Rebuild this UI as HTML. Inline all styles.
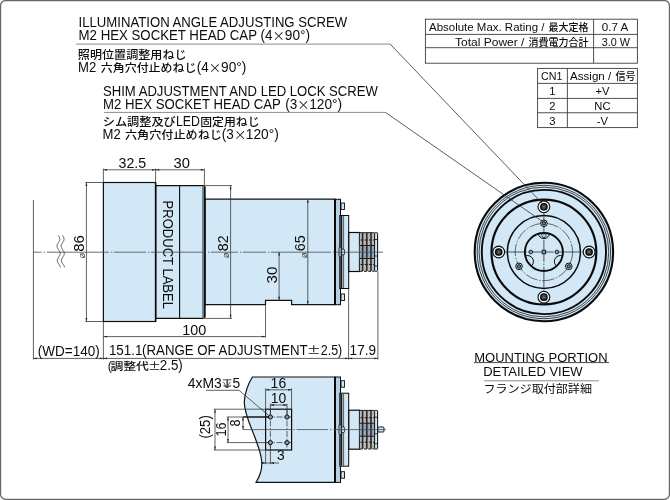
<!DOCTYPE html>
<html lang="ja">
<head>
<meta charset="utf-8">
<title>Outline drawing</title>
<style>
html,body{margin:0;padding:0;background:#fff;}
body{width:670px;height:500px;overflow:hidden;}
svg{display:block;will-change:opacity;}
text{font-family:"Liberation Sans","Noto Sans CJK JP",sans-serif;fill:#0c0c0c;}
.j,.tj,.nj{stroke:none;}
.t{font-size:14px;}
.j{font-size:11.2px;font-weight:500;}
.s{font-family:"Noto Sans CJK JP",sans-serif;}
.tb{font-size:11.2px;}
.tj{font-size:10px;font-weight:500;}
.d{font-size:13.8px;}
.r{font-size:13.8px;}
.ol{fill:#d3e8f6;stroke:#111;stroke-width:1.2;stroke-linejoin:miter;}
.dim{stroke:#2e2e2e;stroke-width:.75;fill:none;}
.rule{stroke:#8c8c8c;stroke-width:1;fill:none;}
.lead{stroke:#333;stroke-width:.8;fill:none;}
.tbl{stroke:#3c3c3c;stroke-width:.9;fill:none;}
.ar{fill:#222;stroke:none;}
</style>
</head>
<body>
<svg width="670" height="500" viewBox="0 0 670 500">
<defs>
<g id="conn">
  <rect x="335" y="-52.7" width="5.5" height="105.4" fill="#b7cfe3" stroke="#0a0a0a" stroke-width="1"/>
  <rect x="341" y="-49" width="3.5" height="6.5" fill="#cfe5f5" stroke="#0a0a0a" stroke-width=".9"/>
  <rect x="341" y="42" width="3.5" height="6.5" fill="#cfe5f5" stroke="#0a0a0a" stroke-width=".9"/>
  <rect x="339.8" y="-36.5" width="8.9" height="73" fill="#d3e8f6" stroke="#0a0a0a" stroke-width="1"/>
  <rect x="340.3" y="-36" width="2" height="72" fill="#1a1a1a"/>
  <line x1="343.6" y1="-36" x2="343.6" y2="36" stroke="#222" stroke-width=".7"/>
  <rect x="339" y="-5" width="2.2" height="10" rx="1" fill="#b7cfe3" stroke="#0a0a0a" stroke-width=".8"/>
  <rect x="341.6" y="-2.8" width="2.8" height="5.6" rx=".8" fill="#d3e8f6" stroke="#0a0a0a" stroke-width=".8"/>
  <rect x="348.8" y="-19.5" width="10.7" height="39" fill="#d3e8f6" stroke="#0a0a0a" stroke-width="1.2"/>
  <rect x="359.8" y="-19.3" width="14.6" height="38.6" fill="#b9b9b9"/>
  <rect x="359.8" y="-6.5" width="14.6" height="13" fill="#93a8bb"/>
  <g stroke="#2a2a2a" stroke-width="1.6">
    <line x1="362.6" y1="-19" x2="362.6" y2="19"/><line x1="366.8" y1="-19" x2="366.8" y2="19"/><line x1="371" y1="-19" x2="371" y2="19"/>
  </g>
  <g stroke="#1a1a1a" stroke-width="1" fill="none">
    <line x1="359.8" y1="-19.3" x2="374.4" y2="-19.3"/><line x1="359.8" y1="19.3" x2="374.4" y2="19.3" stroke-dasharray="2.8 1.4"/>
    <line x1="359.8" y1="-6.5" x2="374.4" y2="-6.5"/><line x1="359.8" y1="6.5" x2="374.4" y2="6.5"/>
    <line x1="360.5" y1="-12" x2="374" y2="-12" stroke-dasharray="2.8 1.4"/><line x1="360.5" y1="12.5" x2="374" y2="12.5" stroke-dasharray="2.8 1.4"/>
  </g>
  <rect x="374.6" y="-19.3" width="3" height="38.6" rx=".8" fill="#d3e8f6" stroke="#0a0a0a" stroke-width="1"/>
  <line x1="374.6" y1="-12.5" x2="377.6" y2="-12.5" stroke="#0a0a0a" stroke-width=".8"/>
  <line x1="374.6" y1="4" x2="377.6" y2="4" stroke="#0a0a0a" stroke-width=".8"/>
  <line x1="374.6" y1="14" x2="377.6" y2="14" stroke="#0a0a0a" stroke-width=".8"/>
</g>
<path id="ah" d="M0,0 L3.6,-0.9 L3.6,0.9 Z"/>
<g id="bscrew">
  <circle r="5.9" fill="#eaf4fb" stroke="#0a0a0a" stroke-width="1.1"/>
  <circle r="3.1" fill="#56616b" stroke="#0a0a0a" stroke-width="1.5"/>
  <circle r="1.3" fill="#8e99a3" stroke="#111" stroke-width=".7"/>
</g>
<g id="sscrew">
  <circle r="3.3" fill="#d3e8f6" stroke="#0a0a0a" stroke-width="1"/>
  <circle r="1.7" fill="#77838e" stroke="#0a0a0a" stroke-width="1"/>
</g>
<clipPath id="inner"><circle cx="543.9" cy="252" r="19"/></clipPath>
</defs>

<!-- frame -->
<rect x=".55" y=".55" width="668.9" height="498.7" rx="5" ry="5" fill="#fff" stroke="#666" stroke-width="1.25"/>

<!-- ===== notes top-left ===== -->
<text class="t" x="78.6" y="27" textLength="268.6" lengthAdjust="spacingAndGlyphs">ILLUMINATION ANGLE ADJUSTING SCREW</text>
<text class="t" y="40.3"><tspan x="78.6" textLength="178.4" lengthAdjust="spacingAndGlyphs">M2 HEX SOCKET HEAD CAP</tspan><tspan x="260.4" textLength="12" lengthAdjust="spacingAndGlyphs">(4</tspan><tspan class="s" x="272.5" dy=".8" style="font-size:12.4px">×</tspan><tspan x="284.8" dy="-.8" textLength="25.3" lengthAdjust="spacingAndGlyphs">90°)</tspan></text>
<text class="j" x="77.8" y="59.2" textLength="108.8" lengthAdjust="spacingAndGlyphs">照明位置調整用ねじ</text>
<text class="t" y="72"><tspan x="78.1" textLength="18.2" lengthAdjust="spacingAndGlyphs">M2</tspan><tspan class="j" x="100.8" textLength="95.6" lengthAdjust="spacingAndGlyphs">六角穴付止めねじ</tspan><tspan x="196.7" textLength="12" lengthAdjust="spacingAndGlyphs">(4</tspan><tspan class="s" x="208.8" dy=".8" style="font-size:12.4px">×</tspan><tspan x="221.1" dy="-.8" textLength="25.3" lengthAdjust="spacingAndGlyphs">90°)</tspan></text>
<text class="t" x="103" y="95.9" textLength="274.8" lengthAdjust="spacingAndGlyphs">SHIM ADJUSTMENT AND LED LOCK SCREW</text>
<text class="t" y="109"><tspan x="103" textLength="177.8" lengthAdjust="spacingAndGlyphs">M2 HEX SOCKET HEAD CAP</tspan><tspan x="285.2" textLength="12" lengthAdjust="spacingAndGlyphs">(3</tspan><tspan class="s" x="297.3" dy=".8" style="font-size:12.4px">×</tspan><tspan x="309.2" dy="-.8" textLength="33" lengthAdjust="spacingAndGlyphs">120°)</tspan></text>
<text class="t" y="125.8"><tspan class="j" x="102.8" textLength="73" lengthAdjust="spacingAndGlyphs">シム調整及び</tspan><tspan x="176" textLength="24" lengthAdjust="spacingAndGlyphs">LED</tspan><tspan class="j" x="200.2" textLength="59.4" lengthAdjust="spacingAndGlyphs">固定用ねじ</tspan></text>
<text class="t" y="139.4"><tspan x="102.6" textLength="18.2" lengthAdjust="spacingAndGlyphs">M2</tspan><tspan class="j" x="124.9" textLength="97" lengthAdjust="spacingAndGlyphs">六角穴付止めねじ</tspan><tspan x="221.8" textLength="12" lengthAdjust="spacingAndGlyphs">(3</tspan><tspan class="s" x="233.9" dy=".8" style="font-size:12.4px">×</tspan><tspan x="245.8" dy="-.8" textLength="33" lengthAdjust="spacingAndGlyphs">120°)</tspan></text>
<polyline class="rule" points="76,44.1 390.4,44.1"/>
<polyline class="rule" points="104,112.4 385.6,112.4"/>

<!-- ===== tables ===== -->
<g class="tbl">
<rect x="425.4" y="19.2" width="212" height="44"/>
<line x1="425.4" y1="34.4" x2="637.4" y2="34.4"/><line x1="425.4" y1="47.7" x2="637.4" y2="47.7"/>
<line x1="593.6" y1="19.2" x2="593.6" y2="63.2"/>
<rect x="537.6" y="68.4" width="99.8" height="59.2"/>
<line x1="537.6" y1="83.4" x2="637.4" y2="83.4"/><line x1="537.6" y1="98.4" x2="637.4" y2="98.4"/><line x1="537.6" y1="112.75" x2="637.4" y2="112.75"/>
<line x1="567.4" y1="68.4" x2="567.4" y2="127.6"/>
</g>
<text class="tb" y="31.2"><tspan x="429" textLength="115.4" lengthAdjust="spacingAndGlyphs">Absolute Max. Rating /</tspan><tspan class="tj" x="548.6">最大定格</tspan></text>
<text class="tb" y="46.2"><tspan x="455" textLength="69.4" lengthAdjust="spacingAndGlyphs">Total Power /</tspan><tspan class="tj" x="528.6">消費電力合計</tspan></text>
<text class="tb" x="601.8" y="31.2" textLength="26.6" lengthAdjust="spacingAndGlyphs">0.7 A</text>
<text class="tb" x="601.8" y="46.2" textLength="28.2" lengthAdjust="spacingAndGlyphs">3.0 W</text>
<text class="tb" x="541" y="80.2" textLength="21.4" lengthAdjust="spacingAndGlyphs">CN1</text>
<text class="tb" y="80.2"><tspan x="570" textLength="41.2" lengthAdjust="spacingAndGlyphs">Assign /</tspan><tspan class="tj" x="615.4">信号</tspan></text>
<text class="tb" x="552.4" y="95.2" text-anchor="middle">1</text>
<text class="tb" x="552.4" y="109.9" text-anchor="middle">2</text>
<text class="tb" x="552.4" y="124.8" text-anchor="middle">3</text>
<text class="tb" x="602.4" y="95.2" text-anchor="middle">+V</text>
<text class="tb" x="602.4" y="109.9" text-anchor="middle">NC</text>
<text class="tb" x="602.4" y="124.8" text-anchor="middle">-V</text>

<!-- ===== side view ===== -->
<path class="ol" d="M205,199.2 H335 V304.6 H291.6 V300.4 H265.5 V304.6 H205 Z"/>
<path class="ol" d="M155.6,185.6 H203 Q204.8,185.6 204.8,187.4 V316.6 Q204.8,318.4 203,318.4 H155.6 Z"/>
<line x1="179.6" y1="185.6" x2="179.6" y2="318.4" stroke="#0a0a0a" stroke-width="1.1"/>
<rect x="202.1" y="186.2" width="2.2" height="131.6" fill="#6d7d8b"/>
<line x1="204.8" y1="186.4" x2="204.8" y2="317.6" stroke="#0a0a0a" stroke-width="1.4"/>
<rect class="ol" x="103.4" y="182.5" width="52.2" height="139"/>
<line x1="155.6" y1="182.5" x2="155.6" y2="321.5" stroke="#0a0a0a" stroke-width="1.5"/>
<use href="#conn" y="252"/>
<line x1="335" y1="199" x2="335" y2="304.5" stroke="#0a0a0a" stroke-width="2"/>
<text class="r" transform="translate(163,200.6) rotate(90)" textLength="108.4" lengthAdjust="spacingAndGlyphs" style="font-size:14px">PRODUCT LABEL</text>

<!-- centre line -->
<path d="M33.2,252.2 H41.6 M43.6,252.2 H45 M47,252.2 H109 M111,252.2 H112.4 M114,252.2 H146 M148,252.2 H149.4 M151,252.2 H206 M208,252.2 H209.5 M211,252.2 H238 M240,252.2 H241.5 M243,252.2 H266 M268,252.2 H269.4 M271,252.2 H331 M333,252.2 H334.4 M336,252.2 H383" stroke="#4a4a4a" stroke-width=".8" fill="none"/>
<!-- break marks -->
<polyline points="58.3,235.4 58.8,236.2 59.3,237.0 59.6,237.8 59.8,238.6 59.8,239.4 59.7,240.2 59.4,241.0 58.9,241.8 58.4,242.6 57.9,243.4 57.5,244.2 57.2,245.0 57.0,245.8 57.0,246.6 57.2,247.4 57.6,248.2 58.0,249.0 58.6,249.8 59.1,250.6 59.6,251.4 59.9,252.2 60.1,253.0 60.1,253.8 60.0,254.6 59.7,255.4 59.2,256.2 58.7,257.0 58.2,257.8 57.8,258.6 57.5,259.4 57.3,260.2 57.3,261.0 57.5,261.8 57.9,262.6 58.3,263.4 58.9,264.2 59.4,265.0 59.9,265.8 60.2,266.6 60.4,267.4" fill="none" stroke="#333" stroke-width=".75"/>
<polyline points="62.5,235.4 63.0,236.2 63.5,237.0 63.8,237.8 64.0,238.6 64.0,239.4 63.9,240.2 63.6,241.0 63.1,241.8 62.6,242.6 62.1,243.4 61.7,244.2 61.4,245.0 61.2,245.8 61.2,246.6 61.4,247.4 61.8,248.2 62.2,249.0 62.8,249.8 63.3,250.6 63.8,251.4 64.1,252.2 64.3,253.0 64.3,253.8 64.2,254.6 63.9,255.4 63.4,256.2 62.9,257.0 62.4,257.8 62.0,258.6 61.7,259.4 61.5,260.2 61.5,261.0 61.7,261.8 62.1,262.6 62.5,263.4 63.1,264.2 63.6,265.0 64.1,265.8 64.4,266.6 64.6,267.4" fill="none" stroke="#333" stroke-width=".75"/>

<!-- dimensions side view -->
<g class="dim">
<line x1="33.4" y1="200" x2="33.4" y2="359.6"/>
<line x1="103.4" y1="168.6" x2="103.4" y2="182"/><line x1="155.6" y1="168.6" x2="155.6" y2="185"/><line x1="204.4" y1="168.6" x2="204.4" y2="185"/>
<line x1="103.4" y1="169.8" x2="204.4" y2="169.8"/>
<line x1="85.4" y1="182.5" x2="103.4" y2="182.5"/><line x1="85.4" y1="321.5" x2="103.4" y2="321.5"/><line x1="86.4" y1="182.5" x2="86.4" y2="321.5"/>
<line x1="204.4" y1="185.6" x2="232" y2="185.6"/><line x1="204.4" y1="318.4" x2="232" y2="318.4"/><line x1="230.6" y1="185.6" x2="230.6" y2="318.4"/>
<line x1="307.8" y1="199.2" x2="307.8" y2="304.6"/>
<line x1="279.1" y1="252" x2="279.1" y2="300.4"/>
<line x1="103.4" y1="321.5" x2="103.4" y2="359.6"/>
<line x1="265.5" y1="304.5" x2="265.5" y2="337.6"/>
<line x1="103.4" y1="336.6" x2="265.5" y2="336.6"/>
<line x1="33.2" y1="358.4" x2="378" y2="358.4"/>
<line x1="348.6" y1="288.5" x2="348.6" y2="359.6"/><line x1="377.9" y1="271.5" x2="377.9" y2="359.6"/>
</g>
<g class="ar">
<use href="#ah" transform="translate(103.4,169.8)"/><use href="#ah" transform="translate(155.6,169.8) rotate(180)"/>
<use href="#ah" transform="translate(155.6,169.8)"/><use href="#ah" transform="translate(204.4,169.8) rotate(180)"/>
<use href="#ah" transform="translate(86.4,182.5) rotate(90)"/><use href="#ah" transform="translate(86.4,321.5) rotate(-90)"/>
<use href="#ah" transform="translate(230.6,185.6) rotate(90)"/><use href="#ah" transform="translate(230.6,318.4) rotate(-90)"/>
<use href="#ah" transform="translate(307.8,199.2) rotate(90)"/><use href="#ah" transform="translate(307.8,304.6) rotate(-90)"/>
<use href="#ah" transform="translate(279.1,252) rotate(90)"/><use href="#ah" transform="translate(279.1,300.4) rotate(-90)"/>
<use href="#ah" transform="translate(103.4,336.6)"/><use href="#ah" transform="translate(265.5,336.6) rotate(180)"/>
<use href="#ah" transform="translate(33.2,358.4)"/><use href="#ah" transform="translate(103.4,358.4) rotate(180)"/>
<use href="#ah" transform="translate(103.4,358.4)"/><use href="#ah" transform="translate(348.6,358.4) rotate(180)"/>
<use href="#ah" transform="translate(348.6,358.4)"/><use href="#ah" transform="translate(377.9,358.4) rotate(180)"/>
</g>
<text class="d" x="118.6" y="167.5" textLength="27.6" lengthAdjust="spacingAndGlyphs">32.5</text>
<text class="d" x="173.6" y="167.5" textLength="16.4" lengthAdjust="spacingAndGlyphs">30</text>
<text class="d" x="182.2" y="335.1" textLength="24" lengthAdjust="spacingAndGlyphs">100</text>
<text class="d" x="37.8" y="356.2" textLength="62" lengthAdjust="spacingAndGlyphs">(WD=140)</text>
<text class="d" y="354.6"><tspan x="108.9" textLength="33.6" lengthAdjust="spacingAndGlyphs">151.1</tspan><tspan x="142.1" textLength="165.5" lengthAdjust="spacingAndGlyphs">(RANGE OF ADJUSTMENT</tspan></text>
<text class="d s" x="306.8" y="354.4" textLength="14" lengthAdjust="spacingAndGlyphs" style="font-size:10.4px">±</text>
<text class="d" x="320.8" y="354.6" textLength="21.4" lengthAdjust="spacingAndGlyphs">2.5)</text>
<text class="d" x="349.6" y="354.8" textLength="26.4" lengthAdjust="spacingAndGlyphs">17.9</text>
<text class="d" y="369.8"><tspan x="107.7" style="font-size:12.4px">(</tspan><tspan x="110.4" textLength="38.6" lengthAdjust="spacingAndGlyphs" class="nj" style="font-size:10.6px;font-weight:500">調整代</tspan><tspan class="s" x="147.9" textLength="13" lengthAdjust="spacingAndGlyphs" style="font-size:10.4px">±</tspan><tspan x="159.8" textLength="23" lengthAdjust="spacingAndGlyphs">2.5)</tspan></text>
<text class="r" transform="translate(84,251.8) rotate(-90)" textLength="16.6" lengthAdjust="spacingAndGlyphs">86</text>
<text transform="translate(85,258.4) rotate(-90)" style="font-size:9.5px;fill:#444">ø</text>
<text class="r" transform="translate(228,251.2) rotate(-90)" textLength="16" lengthAdjust="spacingAndGlyphs">82</text>
<text transform="translate(229.3,258.2) rotate(-90)" style="font-size:9.5px;fill:#444">ø</text>
<text class="r" transform="translate(305.2,251.2) rotate(-90)" textLength="16" lengthAdjust="spacingAndGlyphs">65</text>
<text transform="translate(306.6,258.2) rotate(-90)" style="font-size:9.5px;fill:#444">ø</text>
<text class="r" transform="translate(277,283.4) rotate(-90)" textLength="16.8" lengthAdjust="spacingAndGlyphs">30</text>

<!-- ===== bottom view ===== -->
<path class="ol" d="M252.4,377 C248.4,383.5 244.8,393 244.3,402 C244.2,414 251.4,427 256.6,442 C261.4,455 263.4,464 260.4,473 C259.2,477 257.2,480 256,482.4 L335,482.4 L335,377 Z"/>
<use href="#conn" y="429.7"/>
<line x1="335" y1="377" x2="335" y2="482.4" stroke="#0a0a0a" stroke-width="2"/>
<rect x="377.9" y="427" width="6" height="5" rx=".6" fill="#d3e8f6" stroke="#0a0a0a" stroke-width=".9"/>
<path d="M243,429.6 H291.6 M293.4,429.6 H294.8 M296.6,429.6 H328 M330,429.6 H331.4 M333.4,429.6 H386" stroke="#4a4a4a" stroke-width=".8" fill="none"/>
<rect x="265.6" y="409.2" width="26" height="40.8" fill="none" stroke="#0a0a0a" stroke-width="1.2"/>
<g stroke="#444" stroke-width=".8" stroke-dasharray="6 1.5 1.5 1.5" fill="none">
<line x1="266" y1="417" x2="291" y2="417"/><line x1="266" y1="442.6" x2="291" y2="442.6"/>
<line x1="270.4" y1="410" x2="270.4" y2="450"/><line x1="287" y1="410" x2="287" y2="450"/>
</g>
<g fill="#8b98a4" stroke="#0a0a0a" stroke-width="1">
<circle cx="270.4" cy="417" r="2.1"/><circle cx="287" cy="417" r="2.1"/><circle cx="270.4" cy="442.6" r="2.1"/><circle cx="287" cy="442.6" r="2.1"/>
</g>
<g class="dim">
<line x1="265.6" y1="388.4" x2="265.6" y2="409"/><line x1="291.6" y1="388.4" x2="291.6" y2="409"/><line x1="265.6" y1="389.8" x2="291.6" y2="389.8"/>
<line x1="270.4" y1="403.8" x2="270.4" y2="415"/><line x1="287" y1="403.8" x2="287" y2="415"/><line x1="270.4" y1="405" x2="287" y2="405"/>
<line x1="213.8" y1="409.2" x2="265.6" y2="409.2"/><line x1="213.8" y1="450" x2="265.6" y2="450"/><line x1="215" y1="409.2" x2="215" y2="450"/>
<line x1="226.8" y1="417" x2="268" y2="417"/><line x1="226.8" y1="442.6" x2="268" y2="442.6"/><line x1="228" y1="417" x2="228" y2="442.6"/>
<line x1="243" y1="417" x2="243" y2="429.6"/>
<line x1="265.6" y1="450" x2="265.6" y2="464.2"/><line x1="270.4" y1="445" x2="270.4" y2="464.2"/><line x1="262" y1="463" x2="279" y2="463"/>
<polyline points="206,390.3 239,390.3 268.6,415.4"/>
</g>
<line x1="243" y1="417" x2="268" y2="417" stroke="#1a1a1a" stroke-width="1.3"/>
<g class="ar">
<use href="#ah" transform="translate(265.6,389.8)"/><use href="#ah" transform="translate(291.6,389.8) rotate(180)"/>
<use href="#ah" transform="translate(270.4,405)"/><use href="#ah" transform="translate(287,405) rotate(180)"/>
<use href="#ah" transform="translate(215,409.2) rotate(90)"/><use href="#ah" transform="translate(215,450) rotate(-90)"/>
<use href="#ah" transform="translate(228,417) rotate(90)"/><use href="#ah" transform="translate(228,442.6) rotate(-90)"/>
<use href="#ah" transform="translate(243,417) rotate(90)"/><use href="#ah" transform="translate(243,429.6) rotate(-90)"/>
<use href="#ah" transform="translate(265.6,463) rotate(180)"/><use href="#ah" transform="translate(270.4,463)"/>
</g>
<text class="d" x="187.8" y="387.7" textLength="34" lengthAdjust="spacingAndGlyphs">4xM3</text>
<text class="d" x="218.6" y="387.6" textLength="16.4" lengthAdjust="spacingAndGlyphs" style="font-size:11.6px;fill:#505050">↧</text>
<path d="M223.3,381.8 L226.85,387.4 L230.4,381.8" fill="none" stroke="#333" stroke-width=".8"/>
<text class="d" x="232.4" y="387.7">5</text>
<text class="d" x="270.6" y="387.7" textLength="15.6" lengthAdjust="spacingAndGlyphs">16</text>
<text class="d" x="270.8" y="402.6" textLength="15.4" lengthAdjust="spacingAndGlyphs">10</text>
<text class="d" x="277" y="460.2">3</text>
<text class="r" transform="translate(210.2,438.6) rotate(-90)" textLength="23.4" lengthAdjust="spacingAndGlyphs">(25)</text>
<text class="r" transform="translate(226,436.6) rotate(-90)" textLength="14" lengthAdjust="spacingAndGlyphs">16</text>
<text class="r" transform="translate(240,426.4) rotate(-90)" textLength="7" lengthAdjust="spacingAndGlyphs">8</text>

<!-- ===== flange view ===== -->
<g fill="none" stroke="#0a0a0a">
<circle cx="543.9" cy="252" r="69.2" fill="#d3e8f6" stroke-width="2.1"/>
<circle cx="543.9" cy="252" r="66.7" stroke-width=".75"/>
<circle cx="543.9" cy="252" r="64.9" stroke-width=".75"/>
<circle cx="543.9" cy="252" r="62.1" fill="#d3e8f6" stroke-width="1.9"/>
<circle cx="543.9" cy="252" r="52.4" stroke-width="2.2"/>
<circle cx="543.9" cy="252" r="36.5" stroke-width="1.5"/>
<circle cx="543.9" cy="252" r="28.7" stroke="#222" stroke-width=".65" stroke-dasharray="12.4 1.6 1.6 1.6"/>
<circle cx="543.9" cy="252" r="19" stroke-width="1.9"/>
<g clip-path="url(#inner)" stroke-width="1">
<circle cx="527.45" cy="261.5" r="6"/><circle cx="560.35" cy="261.5" r="6"/>
<ellipse cx="543.9" cy="233" rx="5.6" ry="5.6"/><ellipse cx="543.9" cy="235" rx="2.2" ry="2.6" stroke-width=".7"/>
</g>
</g>
<line x1="505" y1="252" x2="583" y2="252" stroke="#222" stroke-width=".75" stroke-dasharray="22 1.6 1.6 1.6"/>
<line x1="543.9" y1="213" x2="543.9" y2="291" stroke="#222" stroke-width=".75" stroke-dasharray="22 1.6 1.6 1.6"/>
<use href="#bscrew" x="543.9" y="206.8"/><use href="#bscrew" x="543.9" y="297.2"/><use href="#bscrew" x="498.7" y="252"/><use href="#bscrew" x="589.1" y="252"/>
<use href="#sscrew" x="543.9" y="223.3"/><use href="#sscrew" x="519.05" y="266.35"/><use href="#sscrew" x="568.75" y="266.35"/>
<circle cx="530.8" cy="252" r="1.9" fill="#8b98a4" stroke="#0a0a0a" stroke-width=".8"/>
<circle cx="556.9" cy="252" r="1.9" fill="#8b98a4" stroke="#0a0a0a" stroke-width=".8"/>
<rect x="542.1" y="250.2" width="3.6" height="3.6" fill="#8b98a4" stroke="#0a0a0a" stroke-width=".8"/>

<polyline class="lead" points="390.2,44.1 543.4,204.6"/>
<polyline class="lead" points="385.4,112.4 542.6,221.6"/>
<text class="d" x="474.2" y="362" textLength="133.4" lengthAdjust="spacingAndGlyphs" style="font-size:13.6px">MOUNTING PORTION</text>
<line x1="474" y1="362.6" x2="609" y2="362.6" stroke="#333" stroke-width=".9"/>
<text class="d" x="483.2" y="376.2" textLength="99.4" lengthAdjust="spacingAndGlyphs" style="font-size:13.6px">DETAILED VIEW</text>
<line class="rule" x1="484" y1="380.8" x2="599" y2="380.8"/>
<text class="d nj" x="483.4" y="392.8" textLength="108.6" lengthAdjust="spacingAndGlyphs" style="font-size:11.4px">フランジ取付部詳細</text>
</svg>
</body>
</html>
